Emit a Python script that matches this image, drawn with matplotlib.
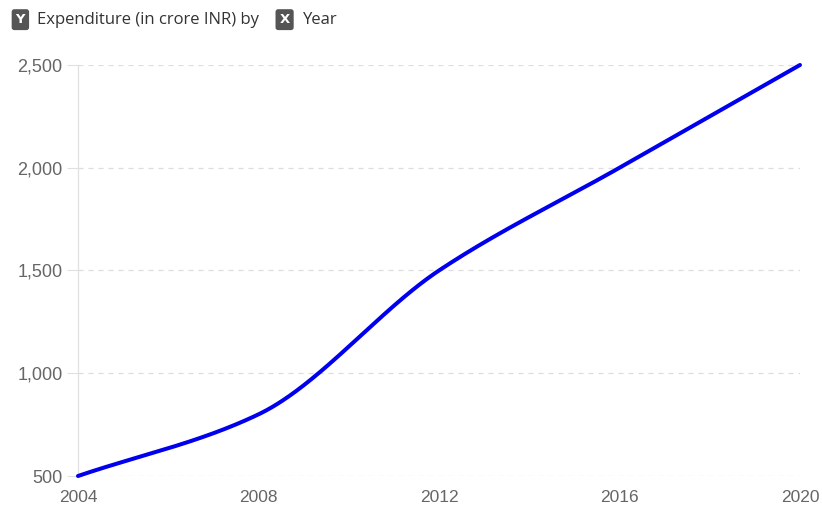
import numpy as np
import matplotlib.pyplot as plt
from matplotlib.ticker import FuncFormatter

years = [2004, 2008, 2012, 2016, 2020]
expenditure = [500, 800, 1500, 2000, 2500]
y_ticks = [500, 1000, 1500, 2000, 2500]


def monotone_curve(x, y, n=400):
    # monotone cubic (Fritsch-Carlson) so the line bends smoothly through points
    x = np.asarray(x, float)
    y = np.asarray(y, float)
    h = np.diff(x)
    d = np.diff(y) / h
    m = np.zeros_like(y)
    m[0], m[-1] = d[0], d[-1]
    for i in range(1, len(x) - 1):
        if d[i - 1] * d[i] > 0:
            w1 = 2 * h[i] + h[i - 1]
            w2 = h[i] + 2 * h[i - 1]
            m[i] = (w1 + w2) / (w1 / d[i - 1] + w2 / d[i])
    xs = np.linspace(x[0], x[-1], n)
    idx = np.clip(np.searchsorted(x, xs) - 1, 0, len(x) - 2)
    t = (xs - x[idx]) / h[idx]
    h00 = 2 * t**3 - 3 * t**2 + 1
    h10 = t**3 - 2 * t**2 + t
    h01 = -2 * t**3 + 3 * t**2
    h11 = t**3 - t**2
    ys = h00 * y[idx] + h10 * h[idx] * m[idx] + h01 * y[idx + 1] + h11 * h[idx] * m[idx + 1]
    return xs, ys


fig = plt.figure(figsize=(8.22, 5.17), dpi=100)
ax = fig.add_axes([0.0949, 0.0793, 0.8783, 0.795])

xs, ys = monotone_curve(years, expenditure)
ax.plot(xs, ys, color='#0000ee', lw=2.9, solid_capstyle='round', clip_on=False, zorder=3)

ax.set_xlim(2004, 2020)
ax.set_ylim(500, 2500)
ax.set_xticks(years)
ax.set_yticks(y_ticks)
ax.yaxis.set_major_formatter(FuncFormatter(lambda v, p: f'{int(v):,}'))

for v in y_ticks:
    ax.axhline(v, color='#dddddd', lw=0.9, ls=(0, (4, 4)), zorder=1)

for s in ['top', 'right', 'bottom']:
    ax.spines[s].set_visible(False)
ax.spines['left'].set_color('#e0e0e0')
ax.spines['left'].set_linewidth(0.9)

ax.tick_params(axis='y', length=8, width=0.8, color='#e0e0e0', pad=3,
               labelsize=13, labelcolor='#666666')
ax.tick_params(axis='x', length=0, pad=10, labelsize=12.5, labelcolor='#666666')
for lab in ax.get_xticklabels() + ax.get_yticklabels():
    lab.set_fontfamily('Liberation Sans')

# header: "Y" badge, label text, "X" badge
badge = dict(boxstyle='round,pad=0.3,rounding_size=0.2', fc='#555555', ec='none')
fig.text(0.019, 0.962, 'Y', fontsize=9.5, fontweight='bold', color='white',
         va='center', ha='left', family='DejaVu Sans', bbox=badge)
fig.text(0.045, 0.962, 'Expenditure (in crore INR) by', fontsize=12, color='#333333',
         va='center', ha='left', family='Open Sans')
fig.text(0.340, 0.962, 'X', fontsize=9.5, fontweight='bold', color='white',
         va='center', ha='left', family='DejaVu Sans', bbox=badge)
fig.text(0.368, 0.962, 'Year', fontsize=12, color='#333333',
         va='center', ha='left', family='Open Sans')

fig.savefig('out.png', dpi=100)
